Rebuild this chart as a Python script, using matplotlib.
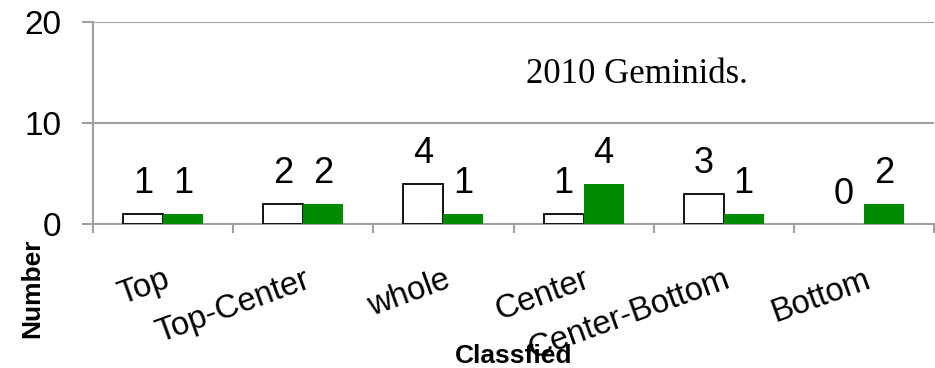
import matplotlib
matplotlib.use("Agg")
import matplotlib.pyplot as plt
import numpy as np

categories = ["Top", "Top-Center", "whole", "Center", "Center-Bottom", "Bottom"]
series_a = [1, 2, 4, 1, 3, 0]
series_b = [1, 2, 1, 4, 1, 2]
y_ticks = [0, 10, 20]

plt.rcParams["font.family"] = ["Liberation Sans", "DejaVu Sans"]

fig = plt.figure(figsize=(9.35, 3.68), dpi=100)
ax = fig.add_axes([93 / 935, 1 - 224 / 368, (934 - 93) / 935, (224 - 22) / 368])

x = np.arange(len(categories))
w = 0.2857
grid_col = "#a0a0a0"
green = "#008a00"

bars_a = ax.bar(x - w / 2, series_a, width=w, facecolor="white", edgecolor="black",
                linewidth=1.3, zorder=3)
bars_b = ax.bar(x + w / 2, series_b, width=w, facecolor=green, edgecolor="none", zorder=3)
for b, v in zip(bars_a, series_a):
    if v == 0:
        b.set_linewidth(0)

for bars, vals in ((bars_a, series_a), (bars_b, series_b)):
    for b, v in zip(bars, vals):
        ax.annotate(f"{v}", (b.get_x() + b.get_width() / 2, v),
                    xytext=(0, 9), textcoords="offset points",
                    ha="center", va="bottom", fontsize=26)

ax.set_xlim(-0.5, len(categories) - 0.5)
ax.set_ylim(0, 20)
ax.set_yticks(y_ticks)
ax.set_yticklabels([str(t) for t in y_ticks], fontsize=24)
ax.tick_params(axis="y", length=8, width=1.5, color=grid_col, pad=15)

ax.set_xticks(x)
ax.set_xticklabels(categories, fontsize=23.5)
ax.tick_params(axis="x", which="major", length=0, pad=29)
plt.setp(ax.get_xticklabels(), rotation=20, ha="right", va="top", rotation_mode="anchor")
ax.set_xticks(np.arange(len(categories) + 1) - 0.5, minor=True)
ax.tick_params(axis="x", which="minor", length=6.5, width=1.5, color=grid_col)

ax.yaxis.grid(True, color=grid_col, linewidth=1.5, zorder=0)
ax.set_axisbelow(True)
for side in ("top", "right"):
    ax.spines[side].set_visible(False)
for side in ("left", "bottom"):
    ax.spines[side].set_color(grid_col)
    ax.spines[side].set_linewidth(1.5)

ax.text(526 / 935, 1 - 83 / 368, "2010 Geminids.", transform=fig.transFigure,
        fontsize=25, family=["Liberation Serif", "DejaVu Serif"], ha="left", va="baseline")

fig.text(32 / 935, 1 - 288 / 368, "Number", rotation=90, ha="center", va="center",
         fontsize=19, fontweight="bold")
fig.text(514 / 935, 1 - 356 / 368, "Classfied", ha="center", va="center",
         fontsize=19, fontweight="bold")

fig.savefig("out.png", dpi=100)
